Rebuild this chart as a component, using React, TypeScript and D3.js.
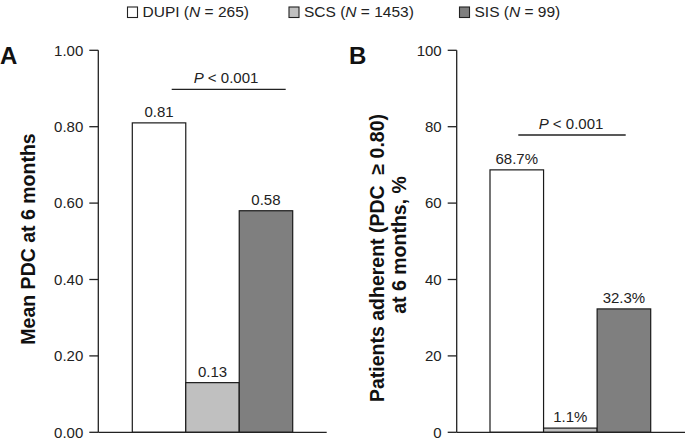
import React from "react";
import * as d3 from "d3";

const groups = ["DUPI", "SCS", "SIS"];
const groupN = ["265", "1453", "99"];
const fills = ["#ffffff", "#c0c0c0", "#7f7f7f"];
const meanPdc = [0.81, 0.13, 0.58];
const meanPdcLabels = ["0.81", "0.13", "0.58"];
const adherentPct = [68.7, 1.1, 32.3];
const adherentLabels = ["68.7%", "1.1%", "32.3%"];
const ticksA = [0, 0.2, 0.4, 0.6, 0.8, 1.0];
const ticksB = [0, 20, 40, 60, 80, 100];
const pText = "< 0.001";

const W = 685;
const H = 439;
const FONT = "Liberation Sans, Arial, Helvetica, sans-serif";
const INK = "#222";

type PanelProps = {
  letter: string;
  letterX: number;
  axisX: number;
  axisEnd: number;
  barRange: [number, number];
  domainMax: number;
  ticks: number[];
  fmt: (v: number) => string;
  values: number[];
  labels: string[];
  pLine: [number, number, number];
  pTextX: number;
  yLabel: { lines: string[]; x: number[]; y: number[] };
};

function Panel(p: PanelProps) {
  const y = d3.scaleLinear().domain([0, p.domainMax]).range([432.3, 50.3]);
  const x = d3.scaleBand<string>().domain(groups).range(p.barRange).padding(0);
  const bw = x.bandwidth();
  const y0 = y(0);
  return (
    <g>
      <text x={p.letterX} y={63.5} fontSize={24} fontWeight="bold" fill="#111" fontFamily={FONT}>
        {p.letter}
      </text>
      {p.yLabel.lines.map((ln, i) => (
        <text
          key={i}
          transform={`translate(${p.yLabel.x[i]},${p.yLabel.y[i]}) rotate(-90)`}
          textAnchor="middle"
          fontSize={19.5}
          fontWeight="bold"
          fill="#111"
          fontFamily={FONT}
          style={{ whiteSpace: "pre" }}
        >
          {ln}
        </text>
      ))}
      {groups.map((g, i) => (
        <rect
          key={g}
          x={x(g)}
          y={y(p.values[i])}
          width={bw}
          height={y0 - y(p.values[i])}
          fill={fills[i]}
          stroke="#1a1a1a"
          strokeWidth={1.2}
        />
      ))}
      {groups.map((g, i) => (
        <text
          key={g + "l"}
          x={(x(g) as number) + bw / 2}
          y={y(p.values[i]) - 6}
          textAnchor="middle"
          fontSize={15}
          fill={INK}
          fontFamily={FONT}
        >
          {p.labels[i]}
        </text>
      ))}
      <line x1={p.axisX} x2={p.axisX} y1={y(p.domainMax)} y2={y0} stroke={INK} strokeWidth={1.3} />
      <line x1={p.axisX} x2={p.axisEnd} y1={y0} y2={y0} stroke={INK} strokeWidth={1.3} />
      {p.ticks.map((t) => (
        <g key={t}>
          <line x1={p.axisX - 9} x2={p.axisX} y1={y(t)} y2={y(t)} stroke={INK} strokeWidth={1.3} />
          <text
            x={p.axisX - 15}
            y={y(t)}
            dy="0.35em"
            textAnchor="end"
            fontSize={15}
            fill={INK}
            fontFamily={FONT}
          >
            {p.fmt(t)}
          </text>
        </g>
      ))}
      <line x1={p.pLine[0]} x2={p.pLine[1]} y1={p.pLine[2]} y2={p.pLine[2]} stroke={INK} strokeWidth={1.3} />
      <text x={p.pTextX} y={p.pLine[2] - 6.5} textAnchor="middle" fontSize={15} fill={INK} fontFamily={FONT}>
        <tspan fontStyle="italic">P</tspan>
        <tspan> {pText}</tspan>
      </text>
    </g>
  );
}

export default function App() {
  const legendX = [127.5, 289, 459.5];
  return (
    <svg
      width={W}
      height={H}
      viewBox={`0 0 ${W} ${H}`}
      style={{ position: "absolute", left: 0, top: 0, background: "#fff" }}
    >
      <rect width={W} height={H} fill="#fff" />
      {groups.map((g, i) => (
        <g key={g}>
          <rect x={legendX[i]} y={7} width={10} height={10.5} fill={fills[i]} stroke="#222" strokeWidth={1.1} />
          <text x={legendX[i] + 15} y={16.5} fontSize={15.5} fill={INK} fontFamily={FONT}>
            {g} (<tspan fontStyle="italic">N</tspan> = {groupN[i]})
          </text>
        </g>
      ))}
      <Panel
        letter="A"
        letterX={0}
        axisX={98.3}
        axisEnd={326.7}
        barRange={[132.3, 292.7]}
        domainMax={1}
        ticks={ticksA}
        fmt={(v) => d3.format(".2f")(v)}
        values={meanPdc}
        labels={meanPdcLabels}
        pLine={[171.7, 285.7, 89.3]}
        pTextX={226}
        yLabel={{ lines: ["Mean PDC at 6 months"], x: [35], y: [239] }}
      />
      <Panel
        letter="B"
        letterX={349}
        axisX={456.7}
        axisEnd={685}
        barRange={[490, 650.7]}
        domainMax={100}
        ticks={ticksB}
        fmt={(v) => d3.format("d")(v)}
        values={adherentPct}
        labels={adherentLabels}
        pLine={[518.3, 625.7, 135]}
        pTextX={571}
        yLabel={{
          lines: ["Patients adherent (PDC  \u2265 0.80)", "at 6 months, %"],
          x: [383.5, 406],
          y: [258, 245],
        }}
      />
    </svg>
  );
}
